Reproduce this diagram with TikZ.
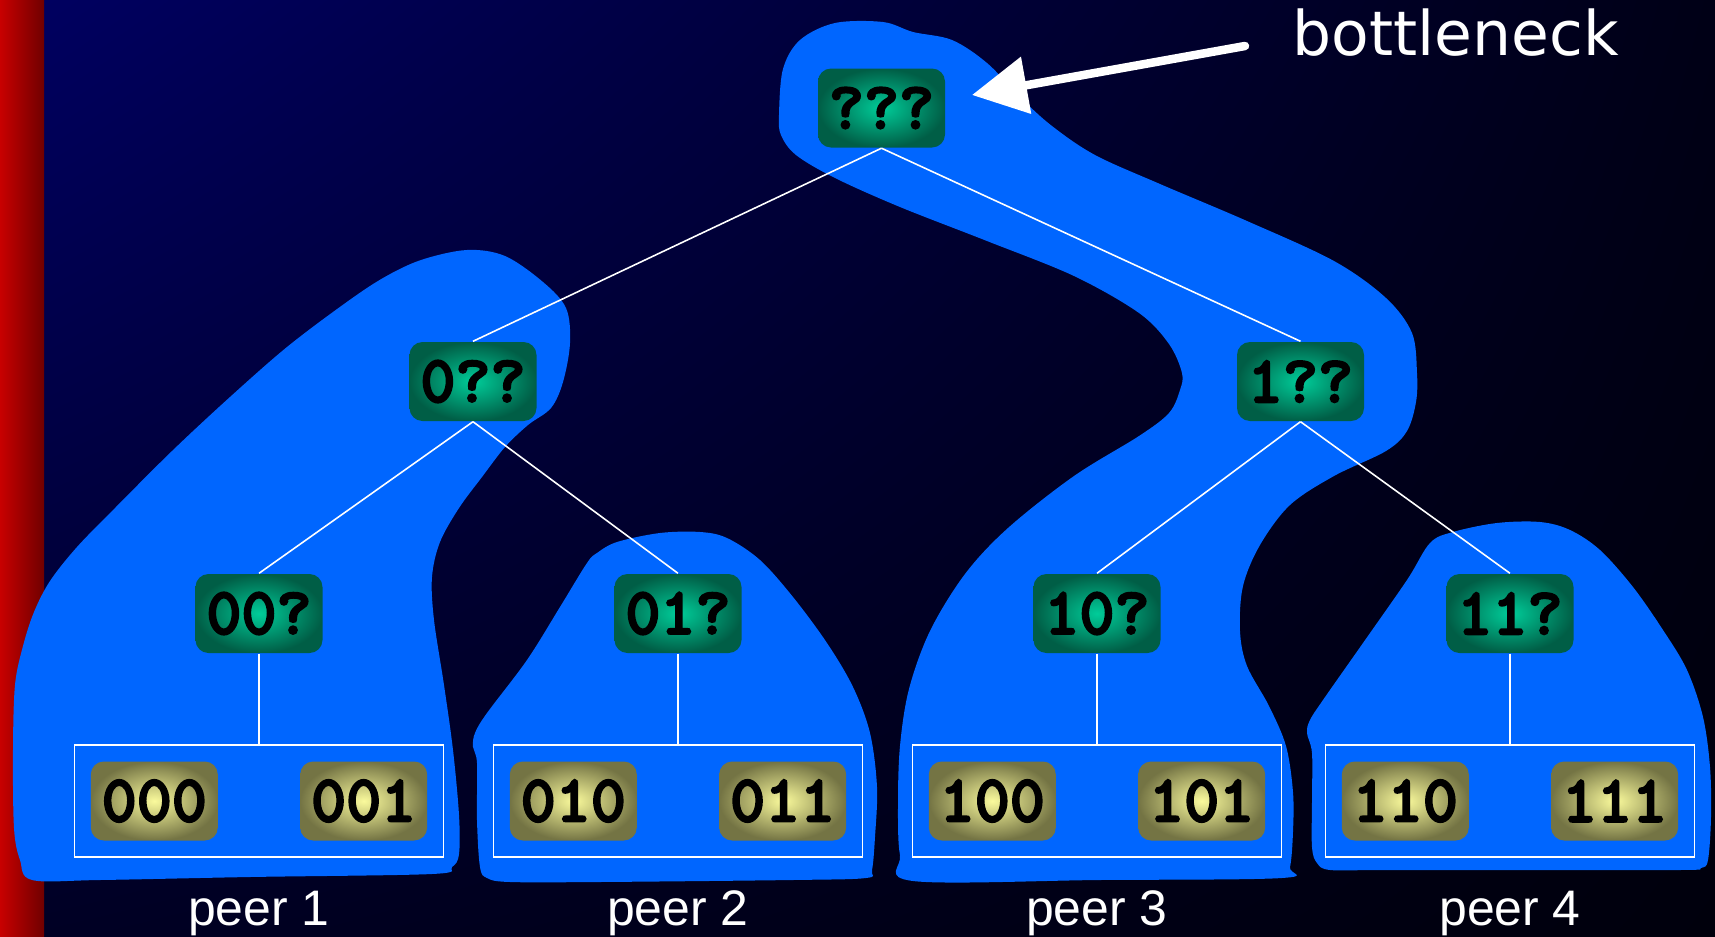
\documentclass[tikz,border=0pt]{standalone}
\usepackage{fontspec}
\setmainfont{Liberation Sans}
\newfontfamily\notefont{DejaVu Sans}
\newfontfamily\keyfont[FakeBold=3]{lmmonolt10-bold.otf}
\usepackage{tikz}
\usetikzlibrary{arrows.meta,positioning,shadings}
\definecolor{slideNavy}{RGB}{0,0,96}
\definecolor{slideMid}{RGB}{0,0,36}
\definecolor{slideDark}{RGB}{0,0,22}
\definecolor{slideBlack}{RGB}{0,0,12}
\definecolor{barLight}{RGB}{200,0,0}
\definecolor{barDark}{RGB}{112,0,0}
\definecolor{blobBlue}{HTML}{0066FF}
\definecolor{keyGreen}{HTML}{00CC99}
\definecolor{keyDark}{HTML}{005E46}
\definecolor{leafLight}{HTML}{FAFA9C}
\definecolor{leafDark}{HTML}{747444}

\begin{document}
\begin{tikzpicture}[x=0.1mm,y=-0.1mm,
  keynode/.style={rounded corners=1.3mm,minimum width=12.7mm,minimum height=7.9mm,inner sep=0pt,
    shade,inner color=keyGreen,outer color=keyDark,font=\keyfont\fontsize{19}{19}\selectfont},
  leaf/.style={keynode,inner color=leafLight,outer color=leafDark},
  peerbox/.style={draw=white,line width=0.5pt,minimum width=36.9mm,minimum height=11.2mm,inner sep=0pt},
  blob/.style={fill=blobBlue},
  edge/.style={white,line width=0.45pt},
  peerlabel/.style={white,anchor=base,inner sep=0pt,font=\fontsize{14.2}{14.2}\selectfont},
  node distance=1.65mm]
\useasboundingbox (0,0) rectangle (1715,937);
% slide background and side bar
\shade[upper left=slideNavy,upper right=slideDark,lower left=slideMid,lower right=slideBlack] (44,0) rectangle (1715,937);
\shade[left color=barLight,right color=barDark] (0,0) rectangle (44,937);
% peer regions
\fill[blob] plot[smooth cycle,tension=0.55] coordinates {(32,880) (20,860) (14,828) (13,750) (15,685) (23,646)
  (34,612) (50,581) (77,547) (115,508) (172,451) (230,397) (287,347) (344,304) (383,278) (421,260) (467,250)
  (505,256) (543,282) (566,308) (570,343) (563,382) (551,408) (528,425) (505,447) (482,477) (459,508) (440,542)
  (432,577) (434,620) (444,685) (453,750) (459,815) (459,854) (452,867) (432,874) (250,877) (100,880)};
\fill[blob] plot[smooth cycle,tension=0.55] coordinates {(597,553) (617,542) (660,533) (700,532) (727,538)
  (760,560) (793,597) (827,643) (853,687) (870,733) (877,787) (875,837) (872,870) (866,878) (793,880) (600,882)
  (510,882) (487,878) (480,867) (477,820) (477,763) (473,747) (475,733) (487,713) (527,660) (560,607) (587,563)};
\fill[blob] plot[smooth cycle,tension=0.55] coordinates {(779,115) (783,69) (800,40) (835,23) (883,22) (913,32)
  (952,40) (987,63) (1021,98) (1052,126) (1095,155) (1160,184) (1247,221) (1334,261) (1386,298) (1412,333)
  (1417,373) (1416,402) (1407,431) (1386,451) (1334,476) (1290,505) (1260,545) (1243,586) (1240,631) (1247,666)
  (1269,706) (1286,746) (1293,792) (1293,832) (1290,867) (1282,878) (1100,880) (913,881) (900,855) (898,804)
  (900,746) (909,689) (930,631) (965,574) (1008,528) (1074,476) (1139,436) (1169,413) (1180,390) (1182,373)
  (1169,344) (1139,313) (1074,276) (987,241) (900,207) (835,178) (796,155) (781,135)};
\fill[blob] plot[smooth cycle,tension=0.55] coordinates {(1430,543) (1453,532) (1497,523) (1540,522) (1570,530)
  (1600,550) (1633,587) (1663,630) (1687,670) (1703,717) (1710,767) (1711,817) (1708,860) (1701,868) (1680,870)
  (1500,870) (1380,870) (1330,870) (1317,863) (1312,847) (1312,800) (1312,753) (1307,733) (1310,720) (1323,700)
  (1363,643) (1407,580)};
% prefix tree
\node[keynode] (root) at (881.5,108) {???};
\node[keynode] (n0) at (473,381.5) {0??};
\node[keynode] (n1) at (1300.5,381.5) {1??};
\node[keynode] (n00) at (259,613.5) {00?};
\node[keynode] (n01) at (678,613.5) {01?};
\node[keynode] (n10) at (1097,613.5) {10?};
\node[keynode] (n11) at (1510,613.5) {11?};
\node[peerbox] (p1) at (259,801) {};
\node[peerbox] (p2) at (678,801) {};
\node[peerbox] (p3) at (1097,801) {};
\node[peerbox] (p4) at (1510,801) {};
\node[leaf,right=of p1.west] (k000) {000}; \node[leaf,left=of p1.east] (k001) {001};
\node[leaf,right=of p2.west] (k010) {010}; \node[leaf,left=of p2.east] (k011) {011};
\node[leaf,right=of p3.west] (k100) {100}; \node[leaf,left=of p3.east] (k101) {101};
\node[leaf,right=of p4.west] (k110) {110}; \node[leaf,left=of p4.east] (k111) {111};
\draw[edge] (root.south)--(n0.north); \draw[edge] (root.south)--(n1.north);
\draw[edge] (n0.south)--(n00.north); \draw[edge] (n0.south)--(n01.north);
\draw[edge] (n1.south)--(n10.north); \draw[edge] (n1.south)--(n11.north);
\draw[edge] (n00.south)--(p1.north); \draw[edge] (n01.south)--(p2.north);
\draw[edge] (n10.south)--(p3.north); \draw[edge] (n11.south)--(p4.north);
\node[peerlabel] (lab1) at (259,925) {peer 1};
\node[peerlabel] (lab2) at (678,925) {peer 2};
\node[peerlabel] (lab3) at (1097,925) {peer 3};
\node[peerlabel] (lab4) at (1510,925) {peer 4};
% hot spot at the root
\node[white,anchor=base west,inner sep=0pt,font=\notefont\fontsize{17.5}{17.5}\selectfont] (bn) at (1292,55) {bottleneck};
\coordinate (bnTail) at (1245,46);
\coordinate (bnTip) at (972,95);
\draw[white,line width=0.85mm,line cap=round,-{Triangle[length=5.5mm,width=5.6mm]}] (bnTail)--(bnTip);
\end{tikzpicture}
\end{document}
